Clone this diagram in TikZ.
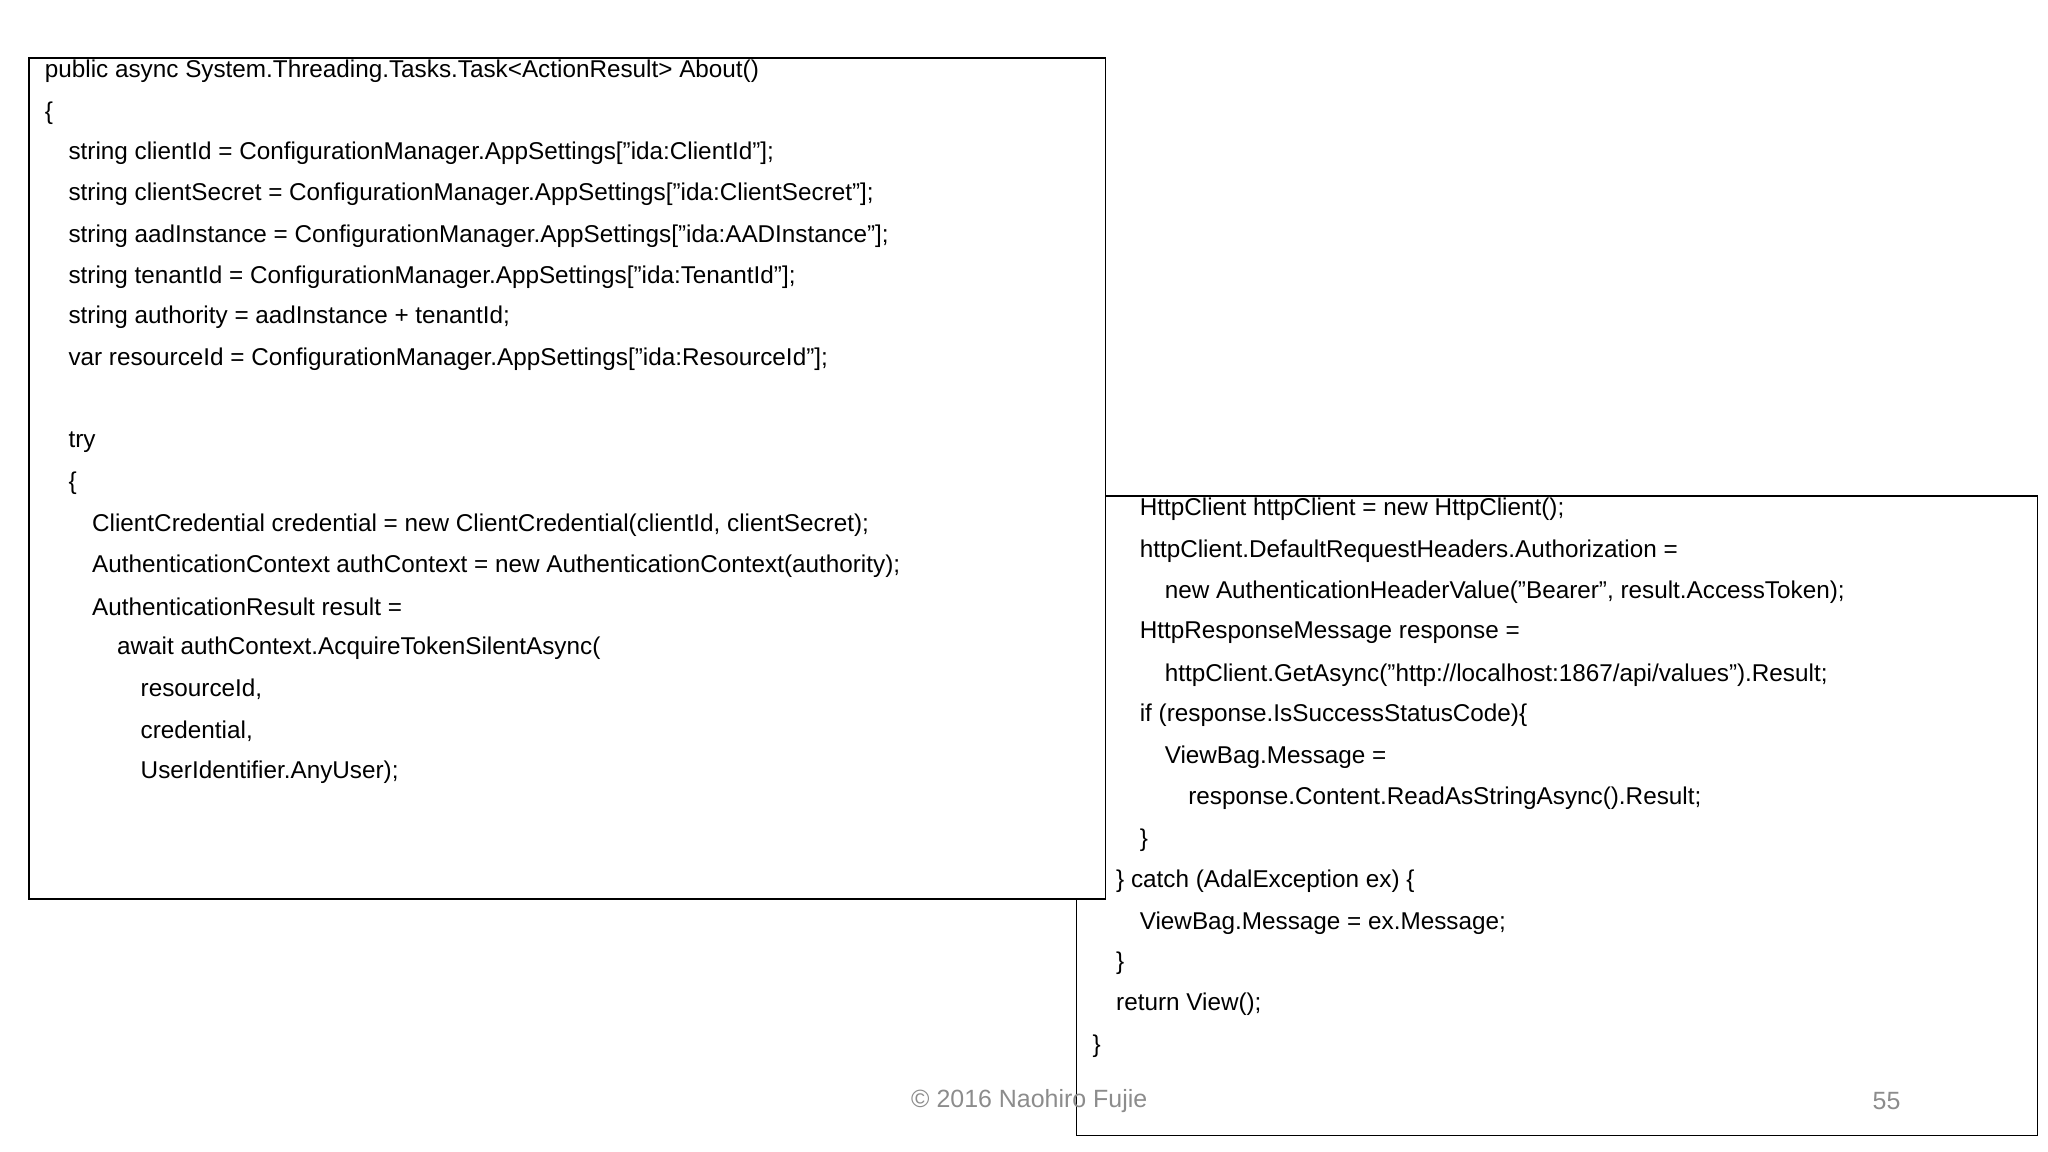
\documentclass[tikz,border=0pt]{standalone}
\usepackage{fontspec}
\setmainfont{Liberation Sans}
\begin{document}
\begin{tikzpicture}[x=1pt,y=-1pt,
  code/.style={anchor=west,inner sep=0pt,font=\fontsize{18.5}{20}\selectfont},
  panel/.style={draw=black,line width=1.3pt,fill=white},
  foot/.style={font=\fontsize{19}{20}\selectfont,text=black!45}]
\useasboundingbox (0,0) rectangle (1560,877.5);
\draw[panel] (820,378) rectangle (1552,865);
\draw[panel] (22,44) rectangle (842,685);
\def\L#1#2#3#4{\node[code] (#1) at (#2,#3) {#4};}
\L{a1}{34}{54}{public async System.Threading.Tasks.Task<ActionResult> About()}
\L{a2}{34}{86}{\{}
\L{a3}{52}{117}{string clientId = ConfigurationManager.AppSettings["ida:ClientId"];}
\L{a4}{52}{148}{string clientSecret = ConfigurationManager.AppSettings["ida:ClientSecret"];}
\L{a5}{52}{180}{string aadInstance = ConfigurationManager.AppSettings["ida:AADInstance"];}
\L{a6}{52}{211}{string tenantId = ConfigurationManager.AppSettings["ida:TenantId"];}
\L{a7}{52}{242}{string authority = aadInstance + tenantId;}
\L{a8}{52}{274}{var resourceId = ConfigurationManager.AppSettings["ida:ResourceId"];}
\L{a9}{52}{337}{try}
\L{a10}{52}{368}{\{}
\L{a11}{70}{400}{ClientCredential credential = new ClientCredential(clientId, clientSecret);}
\L{a12}{70}{431}{AuthenticationContext authContext = new AuthenticationContext(authority);}
\L{a13}{70}{462}{AuthenticationResult result =}
\L{a14}{89}{494}{await authContext.AcquireTokenSilentAsync(}
\L{a15}{107}{525}{resourceId,}
\L{a16}{107}{557}{credential,}
\L{a17}{107}{588}{UserIdentifier.AnyUser);}
\L{b1}{868}{388}{HttpClient httpClient = new HttpClient();}
\L{b2}{868}{420}{httpClient.DefaultRequestHeaders.Authorization =}
\L{b3}{887}{451}{new AuthenticationHeaderValue("Bearer", result.AccessToken);}
\L{b4}{868}{482}{HttpResponseMessage response =}
\L{b5}{887}{514}{httpClient.GetAsync("http://localhost:1867/api/values").Result;}
\L{b6}{868}{545}{if (response.IsSuccessStatusCode)\{}
\L{b7}{887}{577}{ViewBag.Message =}
\L{b8}{905}{608}{response.Content.ReadAsStringAsync().Result;}
\L{b9}{868}{640}{\}}
\L{b10}{850}{671}{\} catch (AdalException ex) \{}
\L{b11}{868}{703}{ViewBag.Message = ex.Message;}
\L{b12}{850}{734}{\}}
\L{b13}{850}{765}{return View();}
\L{b14}{832}{797}{\}}
\node[foot,anchor=center] (copy) at (784,839) {© 2016 Naohiro Fujie};
\node[foot,anchor=center] (page) at (1437,839) {55};
\end{tikzpicture}
\end{document}
